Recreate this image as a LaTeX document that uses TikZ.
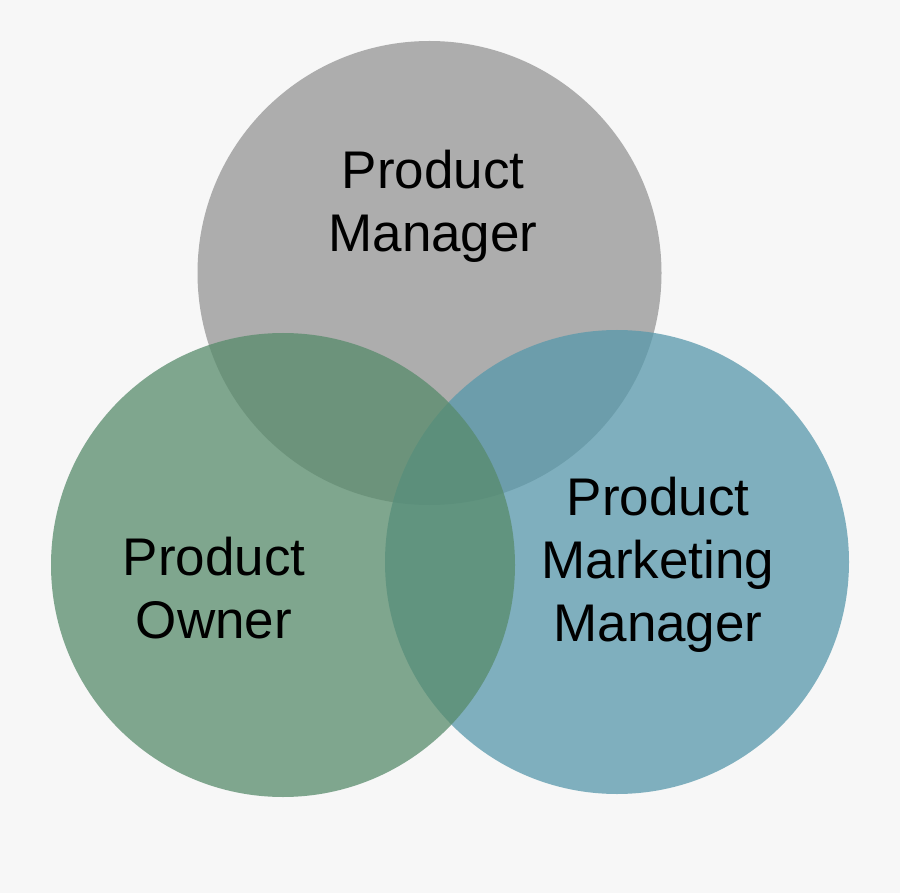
\documentclass[tikz,border=0pt]{standalone}
\usepackage{fontspec}
\setmainfont{Liberation Sans}
\usepackage{xcolor}
\usepackage{tikz}
\definecolor{pagebg}{HTML}{F7F7F7}
\definecolor{pmgray}{HTML}{ADADAD}
\definecolor{pogreen}{HTML}{578B6B}
\definecolor{pmmblue}{HTML}{5798AB}

\begin{document}
\begin{tikzpicture}[
  x=0.5pt, y=-0.5pt,
  circ/.style={circle, draw=none, minimum size=232pt, inner sep=0pt},
  lbl/.style={anchor=north, align=center, inner sep=0pt, text=black,
              font=\fontsize{26.5pt}{31.5pt}\selectfont}]
  \fill[pagebg] (0,0) rectangle (900,893);
  \useasboundingbox (0,0) rectangle (900,893);
  % circles: gray first, blue under green
  \node[circ, fill=pmgray] (pm) at (429.5,273) {};
  \node[circ, fill=pmmblue, fill opacity=0.75] (pmm) at (617,562) {};
  \node[circ, fill=pogreen, fill opacity=0.75] (po) at (283,565) {};
  % labels
  \node[lbl] (pmtext) at (433,150) {Product\\Manager};
  \node[lbl] (potext) at (214,537) {Product\\Owner};
  \node[lbl] (pmmtext) at (658,477) {Product\\Marketing\\Manager};
\end{tikzpicture}
\end{document}
